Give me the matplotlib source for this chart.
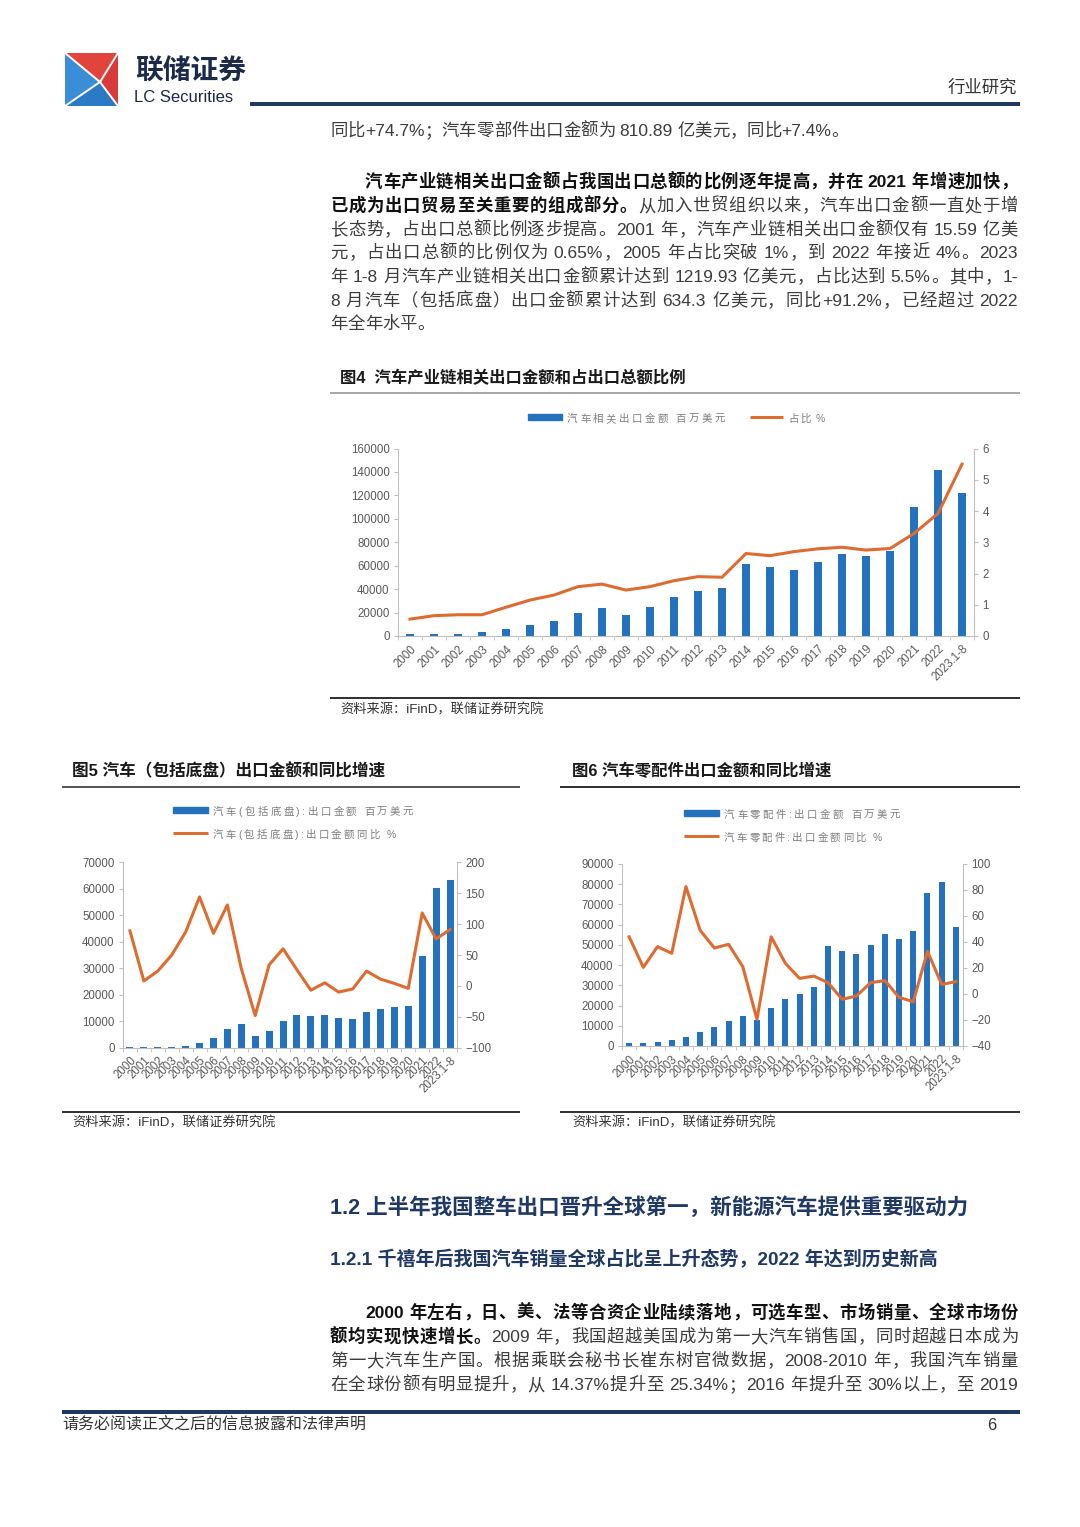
import re
import numpy as np
import matplotlib
matplotlib.use('Agg')
import matplotlib.pyplot as plt
from matplotlib.lines import Line2D
from matplotlib.patches import Polygon, Rectangle

plt.rcParams['font.family'] = ['Liberation Sans', 'Noto Sans CJK SC']

# ---- chart data ----
years = ['2000', '2001', '2002', '2003', '2004', '2005', '2006', '2007', '2008',
         '2009', '2010', '2011', '2012', '2013', '2014', '2015', '2016', '2017',
         '2018', '2019', '2020', '2021', '2022', '2023.1-8']

# fig 4: auto industry chain export (mn USD) and share of total exports (%)
chain_export = [1400, 1559, 2000, 3000, 5700, 9100, 12800, 19600, 24100, 17900,
                25000, 33500, 38600, 41200, 61600, 58500, 56200, 62800, 70400,
                68500, 72400, 110500, 141500, 121993]
chain_share = [0.54, 0.65, 0.68, 0.68, 0.92, 1.15, 1.31, 1.58, 1.66, 1.47, 1.58,
               1.77, 1.90, 1.88, 2.64, 2.57, 2.70, 2.79, 2.84, 2.75, 2.80, 3.28,
               3.92, 5.50]

# fig 5: vehicles (incl. chassis) export (mn USD) and yoy (%)
vehicle_export = [100, 100, 150, 300, 600, 1900, 3500, 6900, 8800, 4500, 6200,
                  9950, 12500, 12100, 12500, 11300, 10800, 13300, 14700, 15300,
                  15700, 34600, 60200, 63430]
vehicle_yoy = [89, 8, 24, 50, 87, 144, 85, 131, 28, -48, 34, 60, 26, -7, 5, -10,
               -5, 24, 11, 4, -4, 118, 76, 91.2]

# fig 6: auto parts export (mn USD) and yoy (%)
parts_export = [1300, 1500, 2000, 2800, 4600, 6900, 9200, 12500, 15000, 12800,
                18800, 23400, 25900, 29200, 49300, 46800, 45700, 49900, 55400,
                53100, 56700, 75700, 81089, 58700]
parts_yoy = [44, 20.5, 36.4, 31.3, 82.6, 49, 35.4, 38.2, 21, -19.5, 44, 23.6, 12,
             13.8, 8.7, -4.1, -1.5, 8.7, 10.3, -2.6, -5.9, 32.8, 7.4, 9.5]

NAVY = '#1F3864'
BLUE = '#2472BD'
ORANGE = '#DE6B2F'
TICK = '#595959'
SPINE = '#BFBFBF'

W, H = 1080, 1527
fig = plt.figure(figsize=(W / 100, H / 100), dpi=100)
renderer = fig.canvas.get_renderer()


def fx(x):
    return x / W


def fy(y):
    return 1 - y / H


def hline(x0, x1, y, color, lw_px):
    fig.add_artist(Line2D([fx(x0), fx(x1)], [fy(y), fy(y)], transform=fig.transFigure,
                          color=color, linewidth=lw_px * 0.72, solid_capstyle='butt'))


def label(x, y, s, size, color='#222222', weight='normal', ha='left', va='center'):
    return fig.text(fx(x), fy(y), s, fontsize=size, color=color, fontweight=weight,
                    ha=ha, va=va)


def text_line(x0, y, segs, x1=None, fs=12.5, color=None):
    # one line of text, optionally justified between x0 and x1
    items = []
    for s, bold in segs:
        for tok in re.findall(r'[A-Za-z0-9.+%\-]+| |.', s):
            items.append((tok, bold))
    arts, widths = [], []
    for tok, bold in items:
        if tok == ' ':
            arts.append(None)
            widths.append(0.25 * fs * 100 / 72)
            continue
        c = color or ('#111111' if bold else '#3c3c3c')
        t = fig.text(0, fy(y + 6), tok, fontsize=fs, va='baseline', ha='left',
                     fontweight='bold' if bold else 'normal', color=c)
        arts.append(t)
        widths.append(t.get_window_extent(renderer).width)
    gap = 0
    if x1 is not None and len(items) > 1:
        gap = (x1 - x0 - sum(widths)) / (len(items) - 1)
    x = x0
    for a, w in zip(arts, widths):
        if a is not None:
            a.set_x(fx(x))
        x += w + gap


def combo_chart(box, values, rate, ylim, ystep, rlim, rstep, bar_w):
    x0, y0, x1, y1 = box
    ax = fig.add_axes([fx(x0), fy(y1), (x1 - x0) / W, (y1 - y0) / H])
    idx = np.arange(len(years))
    ax.bar(idx, values, width=bar_w, color=BLUE, zorder=2)
    ax.set_xlim(-0.5, len(years) - 0.5)
    ax.set_ylim(*ylim)
    ax.set_yticks(np.arange(ylim[0], ylim[1] + 1, ystep))
    ax.set_xticks(idx)
    ax.set_xticklabels(years, rotation=45, ha='right', va='top', rotation_mode='anchor')
    ax.set_xticks(np.arange(-0.5, len(years)), minor=True)
    ax.tick_params(axis='x', which='major', length=0, pad=5, labelsize=8.3, labelcolor=TICK)
    ax.tick_params(axis='x', which='minor', length=3, color=SPINE)
    ax.tick_params(axis='y', length=3, color=SPINE, labelsize=8.3, labelcolor=TICK, pad=3)
    for s in ['top', 'right']:
        ax.spines[s].set_visible(False)
    for s in ['left', 'bottom']:
        ax.spines[s].set_color(SPINE)
    ax2 = ax.twinx()
    ax2.plot(idx, rate, color=ORANGE, lw=2.2, solid_joinstyle='round')
    ax2.set_ylim(*rlim)
    ax2.set_yticks(np.arange(rlim[0], rlim[1] + 0.001, rstep))
    ax2.tick_params(axis='y', length=3, color=SPINE, labelsize=8.3, labelcolor=TICK, pad=3)
    for s in ['top', 'left', 'bottom']:
        ax2.spines[s].set_visible(False)
    ax2.spines['right'].set_color(SPINE)
    return ax, ax2


def legend_key(kind, x0, x1, y, text, text_end):
    if kind == 'bar':
        fig.add_artist(Rectangle((fx(x0), fy(y + 3)), (x1 - x0) / W, 6 / H,
                                 transform=fig.transFigure, color=BLUE))
    else:
        hline(x0, x1, y, ORANGE, 3)
    # legend text in the reference is letter-spaced
    text_line(x1 + 5, y - 1, [(text, False)], text_end, fs=7.5, color='#7F7F7F')


# ---- header ----
tl, tr, br, bl = (65, 53), (118, 53), (118, 106), (65, 106)
pc = (100, 82)
for pts, col in [((tl, bl, pc), '#3A8DD6'), ((tl, tr, pc), '#E2443C'),
                 ((tr, br, pc), '#D8393A'), ((bl, br, pc), '#2B7AC6')]:
    fig.add_artist(Polygon([(fx(a), fy(b)) for a, b in pts], closed=True,
                           transform=fig.transFigure, color=col, lw=0))
for c in (tl, tr, br, bl):
    fig.add_artist(Line2D([fx(c[0]), fx(pc[0])], [fy(c[1]), fy(pc[1])],
                          transform=fig.transFigure, color='white', lw=1.4))
label(135, 73, '联储证券', 20, color='#1B2A48', weight='bold')
label(134, 97, 'LC Securities', 12, color='#1B2A48')
label(1017, 88, '行业研究', 12.5, color='#333333', ha='right')
hline(250, 1020, 104, NAVY, 4)

# ---- body text, top ----
text_line(330, 130, [('同比+74.7%；汽车零部件出口金额为 810.89 亿美元，同比+7.4%。', False)])
R = 1018
text_line(365, 181, [('汽车产业链相关出口金额占我国出口总额的比例逐年提高，并在 2021 年增速加快，', True)], R)
text_line(330, 205, [('已成为出口贸易至关重要的组成部分。', True),
                     ('从加入世贸组织以来，汽车出口金额一直处于增', False)], R)
text_line(330, 229, [('长态势，占出口总额比例逐步提高。2001 年，汽车产业链相关出口金额仅有 15.59 亿美', False)], R)
text_line(330, 252, [('元，占出口总额的比例仅为 0.65%，2005 年占比突破 1%，到 2022 年接近 4%。2023', False)], R)
text_line(330, 276, [('年 1-8 月汽车产业链相关出口金额累计达到 1219.93 亿美元，占比达到 5.5%。其中，1-', False)], R)
text_line(330, 300, [('8 月汽车（包括底盘）出口金额累计达到 634.3 亿美元，同比+91.2%，已经超过 2022', False)], R)
text_line(330, 323, [('年全年水平。', False)])

# ---- figure 4 ----
label(340, 378, '图4  汽车产业链相关出口金额和占出口总额比例', 11.8, color='#1a1a1a', weight='bold')
hline(330, 1020, 393, '#8C8C8C', 1.5)
legend_key('bar', 528, 562, 417, '汽车相关出口金额 百万美元', 725)
legend_key('line', 750, 783, 417, '占比 %', 825)
combo_chart((398, 448.5, 974, 636), chain_export, chain_share,
            (0, 160000), 20000, (0, 6), 1, 0.35)
hline(330, 1020, 698, '#333333', 2)
label(340, 710, '资料来源：iFinD，联储证券研究院', 9.5, color='#333333')

# ---- figure 5 ----
label(72, 771, '图5 汽车（包括底盘）出口金额和同比增速', 12, color='#1a1a1a', weight='bold')
hline(62, 520, 787, '#555555', 2)
legend_key('bar', 173, 208, 810, '汽车(包括底盘):出口金额 百万美元', 413)
legend_key('line', 173, 208, 833, '汽车(包括底盘):出口金额同比 %', 396)
combo_chart((123, 862.3, 457, 1047.7), vehicle_export, vehicle_yoy,
            (0, 70000), 10000, (-100, 200), 50, 0.5)
hline(62, 520, 1112, '#333333', 2)
label(72, 1123, '资料来源：iFinD，联储证券研究院', 9.5, color='#333333')

# ---- figure 6 ----
label(572, 771, '图6 汽车零配件出口金额和同比增速', 11.8, color='#1a1a1a', weight='bold')
hline(560, 1020, 787, '#333333', 2)
legend_key('bar', 684, 719, 813, '汽车零配件:出口金额 百万美元', 900)
legend_key('line', 684, 719, 836, '汽车零配件:出口金额同比 %', 882)
combo_chart((622, 864, 963, 1046), parts_export, parts_yoy,
            (0, 90000), 10000, (-40, 100), 20, 0.42)
hline(560, 1020, 1112, '#333333', 2)
label(572, 1123, '资料来源：iFinD，联储证券研究院', 9.5, color='#333333')

# ---- section headings and text ----
label(330, 1208, '1.2 上半年我国整车出口晋升全球第一，新能源汽车提供重要驱动力', 15.5, color=NAVY, weight='bold')
label(330, 1260, '1.2.1 千禧年后我国汽车销量全球占比呈上升态势，2022 年达到历史新高', 13.7, color=NAVY, weight='bold')
text_line(365, 1312, [('2000 年左右，日、美、法等合资企业陆续落地，可选车型、市场销量、全球市场份', True)], R)
text_line(330, 1336, [('额均实现快速增长。', True),
                      ('2009 年，我国超越美国成为第一大汽车销售国，同时超越日本成为', False)], R)
text_line(330, 1360, [('第一大汽车生产国。根据乘联会秘书长崔东树官微数据，2008-2010 年，我国汽车销量', False)], R)
text_line(330, 1384, [('在全球份额有明显提升，从 14.37%提升至 25.34%；2016 年提升至 30%以上，至 2019', False)], R)

# ---- footer ----
hline(62, 1020, 1412, NAVY, 4)
label(62, 1425, '请务必阅读正文之后的信息披露和法律声明', 11.5, color='#333333')
label(996, 1425, '6', 12, color='#333333', ha='right')

fig.savefig('out.png', dpi=100, facecolor='white')
